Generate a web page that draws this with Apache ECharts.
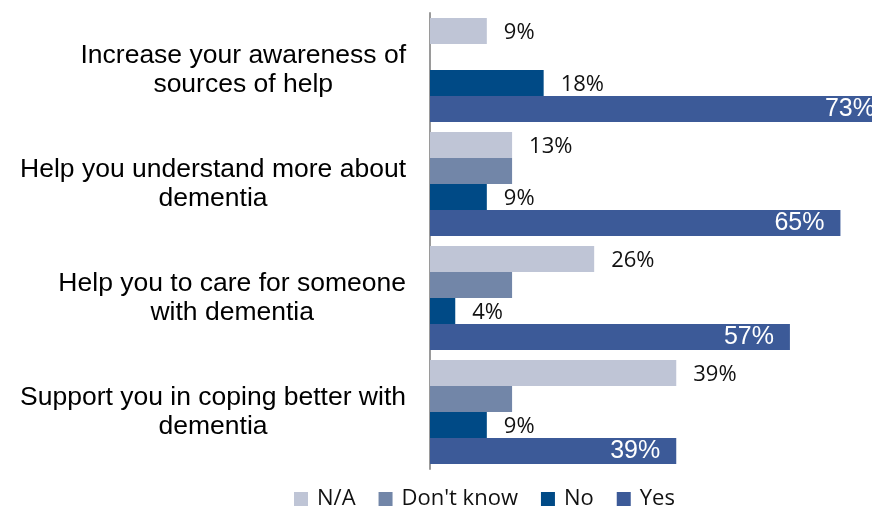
<!DOCTYPE html>
<html>
<head>
<meta charset="utf-8">
<script src="https://cdn.jsdelivr.net/npm/echarts@6/dist/echarts.min.js"></script>
<style>html,body{margin:0;padding:0;background:#fff}#c{width:872px;height:509px}</style>
</head>
<body>
<div id="c"></div>
<script>
const categories = [
  'Increase your awareness of\nsources of help',
  'Help you understand more about\ndementia',
  'Help you to care for someone\nwith dementia',
  'Support you in coping better with\ndementia'
];
const seriesNames = ['N/A', "Don't know", 'No', 'Yes'];
const naValues = [9, 13, 26, 39];
const dontKnowValues = [0, 13, 13, 13];
const noValues = [18, 9, 4, 9];
const yesValues = [73, 65, 57, 39];
const colors = ['#BFC5D6', '#7286A8', '#004A86', '#3C5A98'];

const chart = echarts.init(document.getElementById('c'), null, {renderer: 'canvas'});
const outsideLabel = {
  show: true, position: 'right', distance: 17, offset: [0, 2],
  formatter: p => p.value + '%',
  fontFamily: 'Open Sans', fontSize: 22, color: '#111'
};
function mk(name, data, color, label) {
  return {
    name, type: 'bar', data, barWidth: 26, barGap: '0%', clip: false,
    itemStyle: {color}, label: label, emphasis: {disabled: true}
  };
}
chart.setOption({
  animation: false,
  grid: {left: 430, top: 13, right: 0, height: 456, containLabel: false},
  xAxis: {type: 'value', min: 0, max: 70, show: false, splitLine: {show: false}},
  yAxis: {
    type: 'category', data: categories, inverse: true,
    axisLine: {show: true, lineStyle: {color: '#9a9a9a', width: 2}},
    axisTick: {show: false},
    axisLabel: {
      margin: 24, color: '#000',
      formatter: v => v.split('\n').map(l => '{a|' + l + '}').join('\n'),
      rich: {a: {align: 'center', fontFamily: 'Liberation Sans', fontSize: 26.5, lineHeight: 29, color: '#000'}}
    }
  },
  legend: {
    data: seriesNames, left: 289, top: 483, icon: 'rect', itemWidth: 14, itemHeight: 14, itemGap: 23,
    textStyle: {fontFamily: 'Open Sans', fontSize: 22, color: '#111', padding: [0, 0, 0, 4]}
  },
  series: [
    mk(seriesNames[0], naValues, colors[0], outsideLabel),
    mk(seriesNames[1], dontKnowValues, colors[1], {show: false}),
    mk(seriesNames[2], noValues, colors[2], outsideLabel),
    mk(seriesNames[3], yesValues, colors[3], {
      show: true, position: 'insideRight', distance: 16,
      formatter: p => p.value + '%',
      fontFamily: 'Liberation Sans', fontSize: 25, color: '#fff'
    })
  ]
});
</script>
</body>
</html>
